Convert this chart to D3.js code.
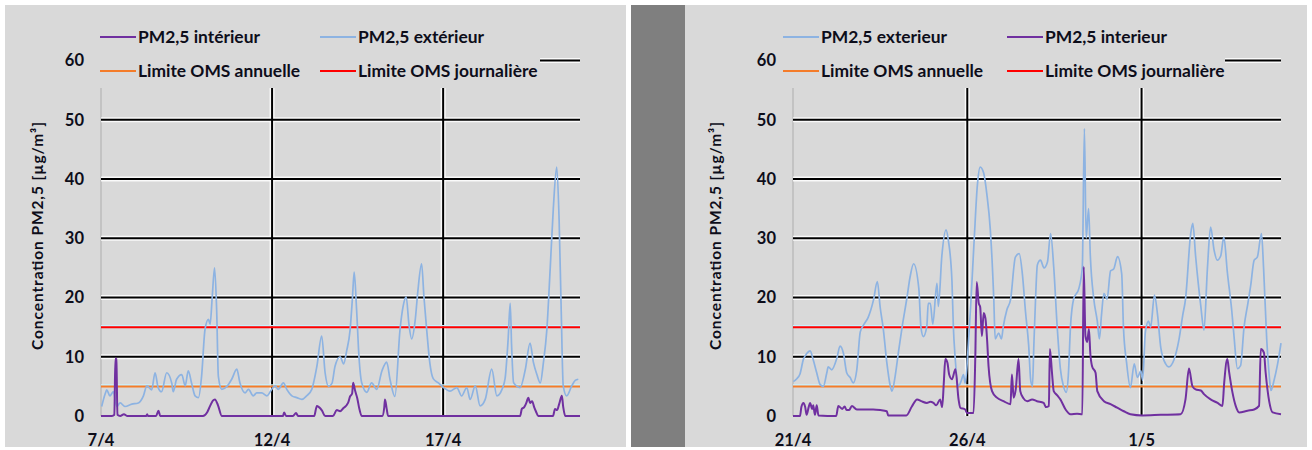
<!DOCTYPE html>
<html><head><meta charset="utf-8">
<script src="https://cdn.jsdelivr.net/npm/d3@7/dist/d3.min.js"></script>
<style>
body{margin:0;background:#fff}
text{font-family:Lato,"Noto Sans",sans-serif;font-weight:700;fill:#0d0d1a}
</style>
</head><body>
<svg id="chart" width="1312" height="450"></svg>
<script>
// ---------- DATA ----------
const yTicks = [0,10,20,30,40,50,60];
const whoAnnual = 5;
const whoDaily = 15;

const leftTickDays = [0,5,10];
const leftTickLabels = ["7/4","12/4","17/4"];
const leftSpanDays = 14;

const rightTickDays = [0,5,10];
const rightTickLabels = ["21/4","26/4","1/5"];
const rightSpanDays = 14;

const yTitle = "Concentration PM2,5 [µg/m³]";

// [days since first tick, µg/m³]
const leftOutdoor = [[0.02,1.6],[0.12,3.7],[0.17,4.4],[0.26,3.4],[0.36,4.1],[0.46,1.6],[0.56,2.2],[0.70,1.6],[0.90,2.0],[1.09,2.2],[1.24,3.4],[1.34,5.1],[1.48,4.4],[1.58,7.3],[1.67,4.8],[1.77,4.1],[1.92,7.3],[2.07,5.5],[2.11,4.1],[2.21,6.2],[2.36,7.0],[2.46,5.1],[2.55,7.6],[2.65,5.5],[2.75,3.4],[2.85,3.1],[2.94,6.7],[3.04,14.6],[3.14,16.3],[3.19,15.5],[3.25,20],[3.32,25],[3.38,18],[3.43,6.7],[3.53,4.5],[3.68,5.0],[3.82,6.2],[3.97,7.9],[4.06,5.6],[4.21,3.9],[4.31,4.5],[4.45,3.4],[4.55,3.9],[4.70,3.9],[4.85,3.4],[4.99,4.5],[5.09,5.1],[5.18,4.5],[5.33,5.6],[5.43,4.5],[5.58,3.4],[5.72,3.1],[5.87,2.8],[6.01,3.4],[6.16,4.5],[6.31,8.4],[6.45,13.5],[6.55,7.3],[6.65,5.0],[6.75,5.5],[6.84,8.4],[6.99,10],[7.09,8.8],[7.18,11],[7.28,14.5],[7.35,20],[7.40,24.3],[7.47,18],[7.54,10],[7.62,5.6],[7.77,4.0],[7.91,5.6],[8.06,4.5],[8.21,7.6],[8.35,9.1],[8.45,6.1],[8.59,3.3],[8.74,14.6],[8.83,18.5],[8.92,20.1],[9.00,15.5],[9.08,13],[9.18,16],[9.26,21],[9.37,25.7],[9.44,20],[9.52,14.5],[9.61,9],[9.71,6.3],[9.86,5.6],[10.01,4.8],[10.20,4.2],[10.40,4.8],[10.54,3.4],[10.69,4.8],[10.79,2.8],[10.94,5.1],[11.08,1.7],[11.23,2.8],[11.42,7.9],[11.57,3.4],[11.72,4.5],[11.81,6.3],[11.90,13],[11.96,19],[12.00,12],[12.06,5.6],[12.25,4.8],[12.40,7.8],[12.54,12.3],[12.64,9],[12.74,7],[12.84,5.6],[12.93,9],[13.03,14.5],[13.13,25],[13.22,35],[13.32,42],[13.39,33],[13.45,18],[13.51,5.1],[13.61,3.4],[13.76,5.1],[13.86,6],[13.95,6.2]];

const leftIndoor = [[0,0],[0.32,0],[0.39,0.2],[0.42,9.7],[0.45,9.6],[0.48,0.2],[0.56,0],[0.67,0.3],[0.76,0],[1.32,0],[1.35,0.3],[1.37,0],[1.61,0],[1.68,0.9],[1.73,0],[2.98,0],[3.10,0.6],[3.19,1.7],[3.27,2.6],[3.33,2.8],[3.42,1.8],[3.53,0],[5.32,0],[5.35,0.6],[5.41,0],[5.61,0],[5.70,0.5],[5.76,0],[6.23,0],[6.31,1.7],[6.37,1.5],[6.46,0.9],[6.55,0],[6.78,0],[6.89,1.0],[6.99,0.8],[7.08,1.3],[7.22,2.2],[7.28,3.3],[7.34,3.8],[7.37,5.6],[7.43,4.2],[7.49,3.0],[7.54,1.5],[7.62,0],[8.22,0],[8.28,1.5],[8.30,2.8],[8.35,1.2],[8.39,0],[12.25,0],[12.30,1.2],[12.37,1.5],[12.43,2.2],[12.49,3.1],[12.54,2.2],[12.60,2.5],[12.66,1.5],[12.71,0.8],[12.78,0],[13.21,0],[13.27,1.2],[13.33,1.0],[13.39,2.0],[13.47,3.4],[13.51,1.5],[13.57,0],[14,0]];

const rightOutdoor = [[0.01,5.8],[0.11,6.3],[0.20,7.1],[0.30,9.6],[0.39,10.5],[0.49,11],[0.58,9.5],[0.68,7.3],[0.78,5.3],[0.87,5],[0.97,7.3],[1.01,8.3],[1.11,7.8],[1.26,9.8],[1.35,11.8],[1.45,10.5],[1.54,7.3],[1.64,6.5],[1.73,5.6],[1.83,7.8],[1.93,14.2],[2.04,15.5],[2.16,16.7],[2.31,19.6],[2.42,22.7],[2.50,18.4],[2.59,14.7],[2.69,9.1],[2.79,5.1],[2.84,4.2],[2.93,6.7],[3.03,11],[3.13,15],[3.27,20],[3.36,23.5],[3.46,25.7],[3.61,21.5],[3.67,15],[3.74,13.4],[3.84,15.2],[3.88,19],[3.94,19],[4.01,15.5],[4.13,22.4],[4.17,18.5],[4.27,27],[4.39,31.4],[4.46,29.5],[4.56,22.8],[4.60,15.1],[4.65,10],[4.75,5.1],[4.83,6],[4.89,7],[4.94,5.5],[5.03,12],[5.11,20],[5.20,30],[5.29,39],[5.37,42],[5.47,41],[5.56,37.5],[5.66,31.5],[5.76,19.7],[5.80,13],[5.90,14],[5.98,13],[6.03,15],[6.14,18],[6.24,19.6],[6.38,26.8],[6.49,27.4],[6.58,24],[6.67,17.6],[6.76,12],[6.82,6],[6.87,5],[6.91,12],[6.96,20],[7.01,25.5],[7.10,26.3],[7.20,25],[7.30,26],[7.39,30.8],[7.48,25.1],[7.58,15],[7.67,8],[7.76,5],[7.84,4],[7.90,7],[7.96,15],[8.05,19.7],[8.20,21.5],[8.30,25.1],[8.36,48.5],[8.41,30],[8.48,35],[8.53,27],[8.63,19.7],[8.73,16],[8.79,13],[8.85,17],[8.92,20.7],[9.01,19.7],[9.11,24.5],[9.20,24.8],[9.31,26.9],[9.43,24],[9.48,15],[9.57,9],[9.68,4.8],[9.79,8.8],[9.88,6.5],[9.98,7.6],[10.03,6],[10.11,14.2],[10.20,16],[10.26,15],[10.37,20.4],[10.46,17],[10.55,11.6],[10.69,8.8],[10.78,8.3],[10.93,9.5],[11.07,12.8],[11.18,17],[11.26,19.7],[11.41,30.8],[11.47,32.5],[11.55,27],[11.70,18.5],[11.79,14.5],[11.89,25],[11.98,31.9],[12.08,28],[12.17,26.3],[12.27,27],[12.36,30.2],[12.46,24.3],[12.59,17.6],[12.65,13.6],[12.75,8],[12.84,8.5],[12.94,15],[13.05,19],[13.13,22],[13.23,26.3],[13.32,26.8],[13.44,30.8],[13.50,25],[13.59,13],[13.66,7],[13.71,4.3],[13.80,6],[13.90,8.7],[14.0,12.3]];

const rightIndoor = [[0,0],[0.20,0],[0.24,1.5],[0.30,2.2],[0.35,1.5],[0.39,0.2],[0.45,1.5],[0.49,2.2],[0.55,1.2],[0.58,1.8],[0.63,0.2],[0.68,1.8],[0.73,0.1],[1.24,0],[1.30,1.7],[1.41,1.2],[1.48,1.6],[1.54,1.0],[1.61,1.0],[1.69,1.7],[1.83,1.1],[2.07,1.1],[2.30,1.1],[2.50,1.0],[2.69,0.8],[2.73,0.1],[3.25,0.1],[3.41,1.6],[3.56,2.8],[3.68,2.5],[3.84,2.2],[3.94,2.4],[4.03,2.2],[4.11,1.8],[4.22,2.8],[4.28,1.5],[4.33,6],[4.37,9.6],[4.43,9],[4.48,7],[4.56,6.2],[4.66,7.9],[4.75,2.8],[4.80,1.4],[4.94,1.1],[4.99,0.5],[5.18,0.5],[5.23,10],[5.27,22.6],[5.33,19],[5.37,18.4],[5.42,13.5],[5.47,17.4],[5.52,16.5],[5.57,12.7],[5.61,8.4],[5.71,4.2],[5.85,3.1],[6.04,2.5],[6.24,2.0],[6.28,7.0],[6.33,3.1],[6.39,4.5],[6.47,9.6],[6.52,4.2],[6.61,3.0],[6.72,2.5],[6.86,2.8],[7.00,2.5],[7.19,2.2],[7.26,1.5],[7.34,1.7],[7.37,11.3],[7.43,7.3],[7.48,4.2],[7.58,3.5],[7.67,2.8],[7.82,1.1],[7.96,0.3],[8.15,0.4],[8.30,0.3],[8.34,25.2],[8.39,13.5],[8.44,12.5],[8.49,14.7],[8.53,10.5],[8.58,8.4],[8.68,7.3],[8.73,4.2],[8.92,2.5],[9.11,2.0],[9.30,1.4],[9.49,0.8],[9.68,0.3],[10.02,0.1],[10.55,0.2],[11.12,0.3],[11.26,2.8],[11.36,8.0],[11.46,5.0],[11.55,4.5],[11.70,4.3],[11.79,3.7],[11.98,2.8],[12.18,2.2],[12.32,1.7],[12.37,5.6],[12.46,9.6],[12.51,7.5],[12.61,3.9],[12.70,1.7],[12.80,0.6],[13.04,0.9],[13.23,1.1],[13.37,1.7],[13.42,11.3],[13.51,10.7],[13.56,7.3],[13.66,2.5],[13.76,0.6],[14.0,0.3]];

// ---------- STYLE / LAYOUT ----------
const C = {indoor:"#7030a0", outdoor:"#8db3e2", annual:"#f47c2a", daily:"#ff0000", grid:"#000", bg:"#d9d9d9", band:"#7f7f7f"};

const svg = d3.select("#chart");
svg.append("rect").attr("width",1312).attr("height",450).attr("fill","#fff");
svg.append("rect").attr("x",5).attr("y",5).attr("width",621).attr("height",442).attr("fill",C.bg);
svg.append("rect").attr("x",631).attr("y",5).attr("width",54).attr("height",442).attr("fill",C.band);
svg.append("rect").attr("x",685).attr("y",5).attr("width",622).attr("height",442).attr("fill",C.bg);

const y = d3.scaleLinear().domain([0,60]).range([416,60.5]);

const panels = [
  {x0:101, x1:580, span:leftSpanDays, ticks:leftTickDays, labels:leftTickLabels,
   indoor:leftIndoor, outdoor:leftOutdoor, titleX:38, titleY:236, titleLen:228, legendRight:540,
   legend:[
     {col:0,row:0,color:C.indoor,text:"PM2,5 intérieur"},
     {col:1,row:0,color:C.outdoor,text:"PM2,5 extérieur"},
     {col:0,row:1,color:C.annual,text:"Limite OMS annuelle"},
     {col:1,row:1,color:C.daily,text:"Limite OMS journalière"}],
   legendCols:[100,320]},
  {x0:793, x1:1281, span:rightSpanDays, ticks:rightTickDays, labels:rightTickLabels,
   indoor:rightIndoor, outdoor:rightOutdoor, titleX:716, titleY:236, titleLen:228, legendRight:1225,
   legend:[
     {col:0,row:0,color:C.outdoor,text:"PM2,5 exterieur"},
     {col:1,row:0,color:C.indoor,text:"PM2,5 interieur"},
     {col:0,row:1,color:C.annual,text:"Limite OMS annuelle"},
     {col:1,row:1,color:C.daily,text:"Limite OMS journalière"}],
   legendCols:[783,1007]}
];

panels.forEach(p => {
  const g = svg.append("g");
  const x = d3.scaleLinear().domain([0,p.span]).range([p.x0,p.x1]);

  g.append("line").attr("x1",p.x0).attr("x2",p.x0).attr("y1",y(60)).attr("y2",y(0))
    .attr("stroke","#b4b4b4").attr("stroke-width",1.2);

  const gy = yTicks.filter(d=>d>0);
  g.selectAll(".hh").data(gy).join("line")
    .attr("x1",p.x0).attr("x2",p.x1).attr("y1",d=>y(d)).attr("y2",d=>y(d))
    .attr("stroke","#fff").attr("stroke-width",5).attr("stroke-opacity",0.85);
  const gx = p.ticks.filter(d=>d>0);
  g.selectAll(".vh").data(gx).join("line")
    .attr("x1",d=>x(d)).attr("x2",d=>x(d)).attr("y1",y(60)).attr("y2",y(0))
    .attr("stroke","#fff").attr("stroke-width",5).attr("stroke-opacity",0.85);
  g.selectAll(".hg").data(gy).join("line")
    .attr("x1",p.x0).attr("x2",p.x1).attr("y1",d=>y(d)).attr("y2",d=>y(d))
    .attr("stroke",C.grid).attr("stroke-width",2);
  g.selectAll(".vg").data(gx).join("line")
    .attr("x1",d=>x(d)).attr("x2",d=>x(d)).attr("y1",y(60)).attr("y2",y(0))
    .attr("stroke",C.grid).attr("stroke-width",2);

  [[whoDaily,C.daily],[whoAnnual,C.annual]].forEach(([v,c])=>{
    g.append("line").attr("x1",p.x0).attr("x2",p.x1).attr("y1",y(v)-1.5).attr("y2",y(v)-1.5)
      .attr("stroke","#c8f2ff").attr("stroke-width",1.5);
    g.append("line").attr("x1",p.x0).attr("x2",p.x1).attr("y1",y(v)).attr("y2",y(v))
      .attr("stroke",c).attr("stroke-width",2);
  });

  const line = d3.line().x(d=>x(d[0])).y(d=>y(d[1])).curve(d3.curveMonotoneX);
  g.append("path").datum(p.outdoor).attr("d",line).attr("fill","none")
    .attr("stroke",C.outdoor).attr("stroke-width",1.7).attr("stroke-linejoin","round");
  g.append("path").datum(p.indoor).attr("d",line).attr("fill","none")
    .attr("stroke",C.indoor).attr("stroke-width",2).attr("stroke-linejoin","round");

  g.append("rect").attr("x",p.x0-15).attr("y",5).attr("width",p.legendRight-(p.x0-15)).attr("height",83)
    .attr("fill",C.bg);
  const rowsY=[37,71];
  p.legend.forEach(l=>{
    const lx=p.legendCols[l.col], ly=rowsY[l.row];
    g.append("line").attr("x1",lx).attr("x2",lx+36).attr("y1",ly).attr("y2",ly)
      .attr("stroke",l.color).attr("stroke-width",2.2);
    g.append("text").attr("x",lx+38).attr("y",ly).attr("dy","0.36em")
      .attr("font-size",17.4).text(l.text);
  });

  g.selectAll(".yt").data(yTicks).join("text")
    .attr("x",p.x0-17).attr("y",d=>y(d)).attr("dy","0.36em").attr("text-anchor","end")
    .attr("font-size",16.5).text(d=>d);
  g.selectAll(".xt").data(p.ticks).join("text")
    .attr("x",d=>x(d)).attr("y",446).attr("text-anchor","middle")
    .attr("font-size",16.5).text((d,i)=>p.labels[i]);

  g.append("text").attr("transform",`translate(${p.titleX},${p.titleY}) rotate(-90)`)
    .attr("text-anchor","middle").attr("dy","0.35em").attr("font-size",15.5)
    .attr("textLength",p.titleLen).attr("lengthAdjust","spacing")
    .text(yTitle);
});
</script>
</body></html>
